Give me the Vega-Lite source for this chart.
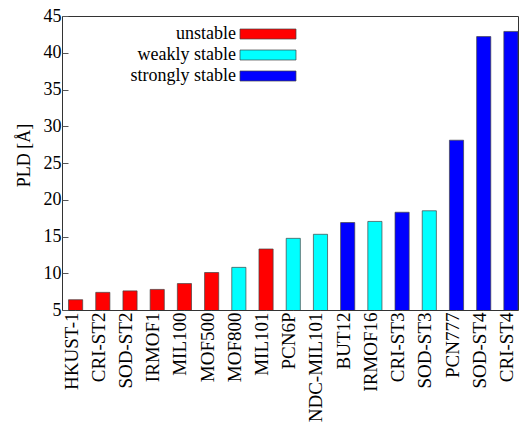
{
  "$schema": "https://vega.github.io/schema/vega-lite/v6.json",
  "width": 456,
  "height": 294,
  "autosize": {"type": "none"},
  "padding": {"left": 62, "top": 16, "right": 1, "bottom": 114},
  "background": "white",
  "config": {
    "view": {"stroke": "#333", "strokeWidth": 1},
    "font": "Liberation Serif"
  },
  "data": {
    "values": [
      {"name": "HKUST-1", "pld": 6.4, "stability": "unstable"},
      {"name": "CRI-ST2", "pld": 7.4, "stability": "unstable"},
      {"name": "SOD-ST2", "pld": 7.6, "stability": "unstable"},
      {"name": "IRMOF1", "pld": 7.8, "stability": "unstable"},
      {"name": "MIL100", "pld": 8.6, "stability": "unstable"},
      {"name": "MOF500", "pld": 10.1, "stability": "unstable"},
      {"name": "MOF800", "pld": 10.8, "stability": "weakly stable"},
      {"name": "MIL101", "pld": 13.3, "stability": "unstable"},
      {"name": "PCN6P", "pld": 14.75, "stability": "weakly stable"},
      {"name": "NDC-MIL101", "pld": 15.3, "stability": "weakly stable"},
      {"name": "BUT12", "pld": 16.9, "stability": "strongly stable"},
      {"name": "IRMOF16", "pld": 17.05, "stability": "weakly stable"},
      {"name": "CRI-ST3", "pld": 18.3, "stability": "strongly stable"},
      {"name": "SOD-ST3", "pld": 18.5, "stability": "weakly stable"},
      {"name": "PCN777", "pld": 28.1, "stability": "strongly stable"},
      {"name": "SOD-ST4", "pld": 42.2, "stability": "strongly stable"},
      {"name": "CRI-ST4", "pld": 42.9, "stability": "strongly stable"}
    ]
  },
  "mark": {"type": "bar", "stroke": "#444", "strokeWidth": 0.7, "clip": true},
  "encoding": {
    "x": {
      "field": "name",
      "type": "nominal",
      "sort": null,
      "scale": {"paddingInner": 0.48, "paddingOuter": 0.12, "align": 1},
      "axis": {
        "title": null,
        "domain": false,
        "labelAngle": -90,
        "labelFont": "Liberation Serif",
        "labelFontSize": 19,
        "labelColor": "black",
        "labelPadding": 8,
        "labelOffset": -4,
        "tickSize": -6,
        "tickColor": "#555",
        "labelBaseline": "middle",
        "labelAlign": "right"
      }
    },
    "y": {
      "field": "pld",
      "type": "quantitative",
      "scale": {"domain": [5, 45], "nice": false, "zero": false},
      "axis": {
        "title": "PLD [Å]",
        "titleFont": "Liberation Serif",
        "titleFontSize": 18,
        "titleFontWeight": "normal",
        "titleColor": "black",
        "titlePadding": 10,
        "titleY": 139,
        "domain": false,
        "grid": false,
        "values": [5, 10, 15, 20, 25, 30, 35, 40, 45],
        "labelFont": "Liberation Serif",
        "labelFontSize": 18,
        "labelColor": "black",
        "labelPadding": 7,
        "tickSize": -6,
        "tickColor": "#555"
      }
    },
    "color": {
      "field": "stability",
      "type": "nominal",
      "scale": {
        "domain": ["unstable", "weakly stable", "strongly stable"],
        "range": ["#ff0000", "#00ffff", "#0000ff"]
      },
      "legend": {
        "title": null,
        "orient": "none",
        "legendX": 197,
        "legendY": 9,
        "padding": 0,
        "symbolType": "M-5.6,-1L5.6,-1L5.6,1L-5.6,1Z",
        "symbolSize": 100,
        "symbolStrokeColor": "#444",
        "symbolStrokeWidth": 0.7,
        "symbolOffset": 0,
        "labelFont": "Liberation Serif",
        "labelFontSize": 18,
        "labelColor": "black",
        "labelAlign": "right",
        "labelBaseline": "middle",
        "labelOffset": -41,
        "labelLimit": 300,
        "rowPadding": 3
      }
    }
  }
}
